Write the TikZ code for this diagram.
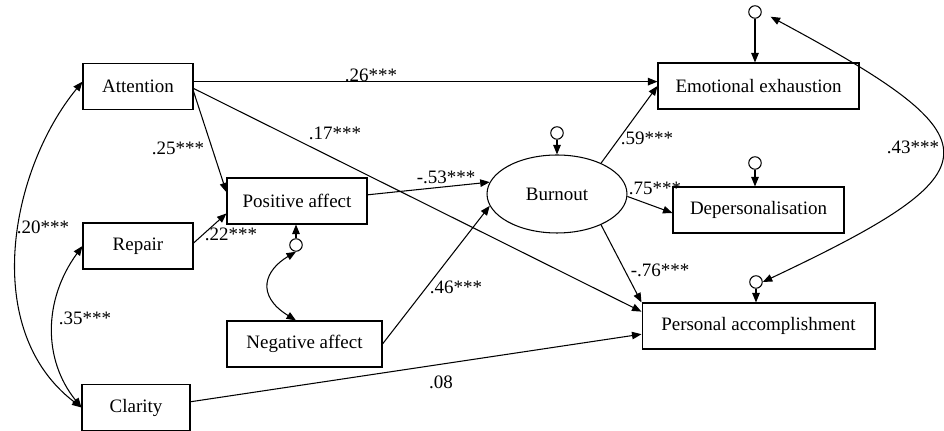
\documentclass[tikz,border=0pt]{standalone}
\usepackage{fontspec}
\setmainfont{Liberation Serif}
\usetikzlibrary{arrows.meta,shapes.geometric}

\begin{document}
\begin{tikzpicture}[x=0.02cm,y=-0.02cm,
  >={Triangle[length=0.19cm,width=0.15cm]},
  obs/.style={draw,line width=0.6pt,rectangle,minimum height=0.92cm,font=\fontsize{10.8}{13}\selectfont},
  lat/.style={draw,line width=0.6pt,ellipse,minimum width=2.8cm,minimum height=1.56cm,font=\fontsize{10.8}{13}\selectfont},
  err/.style={draw,line width=0.6pt,circle,minimum size=0.25cm,inner sep=0pt},
  coef/.style={font=\fontsize{10.8}{13}\selectfont,inner sep=0pt},
  path/.style={line width=0.6pt}]
\useasboundingbox (0,0) rectangle (944,431);
% observed and latent variables
\node[obs,minimum width=2.2cm] (attn) at (138,86.5) {Attention};
\node[obs,minimum width=2.2cm] (repair) at (138,246) {Repair};
\node[obs,minimum width=2.16cm] (clarity) at (136,407.5) {Clarity};
\node[obs,minimum width=2.8cm] (posaff) at (297,201) {Positive affect};
\node[obs,minimum width=3.1cm] (negaff) at (304.5,344) {Negative affect};
\node[lat] (burnout) at (557,194) {Burnout};
\node[obs,minimum width=4.02cm] (emoexh) at (758.5,86) {Emotional exhaustion};
\node[obs,minimum width=3.42cm] (depers) at (758.5,210) {Depersonalisation};
\node[obs,minimum width=4.66cm] (persacc) at (758.5,326) {Personal accomplishment};
% error terms
\node[err] (eEE) at (755,12) {};
\node[err] (eBO) at (557,133) {};
\node[err] (eDP) at (755,163) {};
\node[err] (ePA) at (756,282) {};
\node[err] (eAF) at (296,245) {};
% paths
\draw[path,->] (attn.5) -- (attn.5 -| emoexh.west);
\draw[path,->] (attn.-2) -- (persacc.173);
\draw[path,->] (attn.-5) -- (posaff.173);
\draw[path,->] (repair.3) -- (posaff.190);
\draw[path,->] (posaff.5) -- (burnout.170);
\draw[path,->] (negaff.east) -- (burnout.190);
\draw[path,->] (clarity.6) -- (persacc.184);
\draw[path,->] (burnout.35) -- (emoexh.west);
\draw[path,->] (burnout.-2) -- (depers.182);
\draw[path,->] (burnout.-35) -- (persacc.north west);
\draw[path,->] (eEE) -- (eEE |- emoexh.north);
\draw[path,->] (eBO) -- (burnout);
\draw[path,->] (eDP) -- (eDP |- depers.north);
\draw[path,->] (ePA) -- (ePA |- persacc.north);
\draw[path,->] (eAF) -- (eAF |- posaff.south);
% covariances
\draw[path,<->] (eAF.south) .. controls (265,270) and (255,295) .. (eAF |- negaff.north);
\draw[path,<->] (attn.175) .. controls (10,170) and (-20,330) .. (clarity.west);
\draw[path,<->] (repair.west) .. controls (43,300) and (43,360) .. (clarity.west);
\draw[path,<->,shorten <=0.2cm] (eEE.east) .. controls (1000,140) and (1000,170) .. (ePA.east);
% coefficients
\node[coef] (c26) at (371,75) {.26***};
\node[coef] (c17) at (335,133) {.17***};
\node[coef] (c25) at (178,148) {.25***};
\node[coef] (c22) at (231,234) {.22***};
\node[coef] (c53) at (446,177) {-.53***};
\node[coef] (c46) at (456,287) {.46***};
\node[coef] (c08) at (441,382) {.08};
\node[coef] (c59) at (647,138) {.59***};
\node[coef] (c75) at (655,188) {.75***};
\node[coef] (c76) at (660,270) {-.76***};
\node[coef] (c43) at (913,147) {.43***};
\node[coef] (c20) at (43,227) {.20***};
\node[coef] (c35) at (85,318) {.35***};
\end{tikzpicture}
\end{document}
